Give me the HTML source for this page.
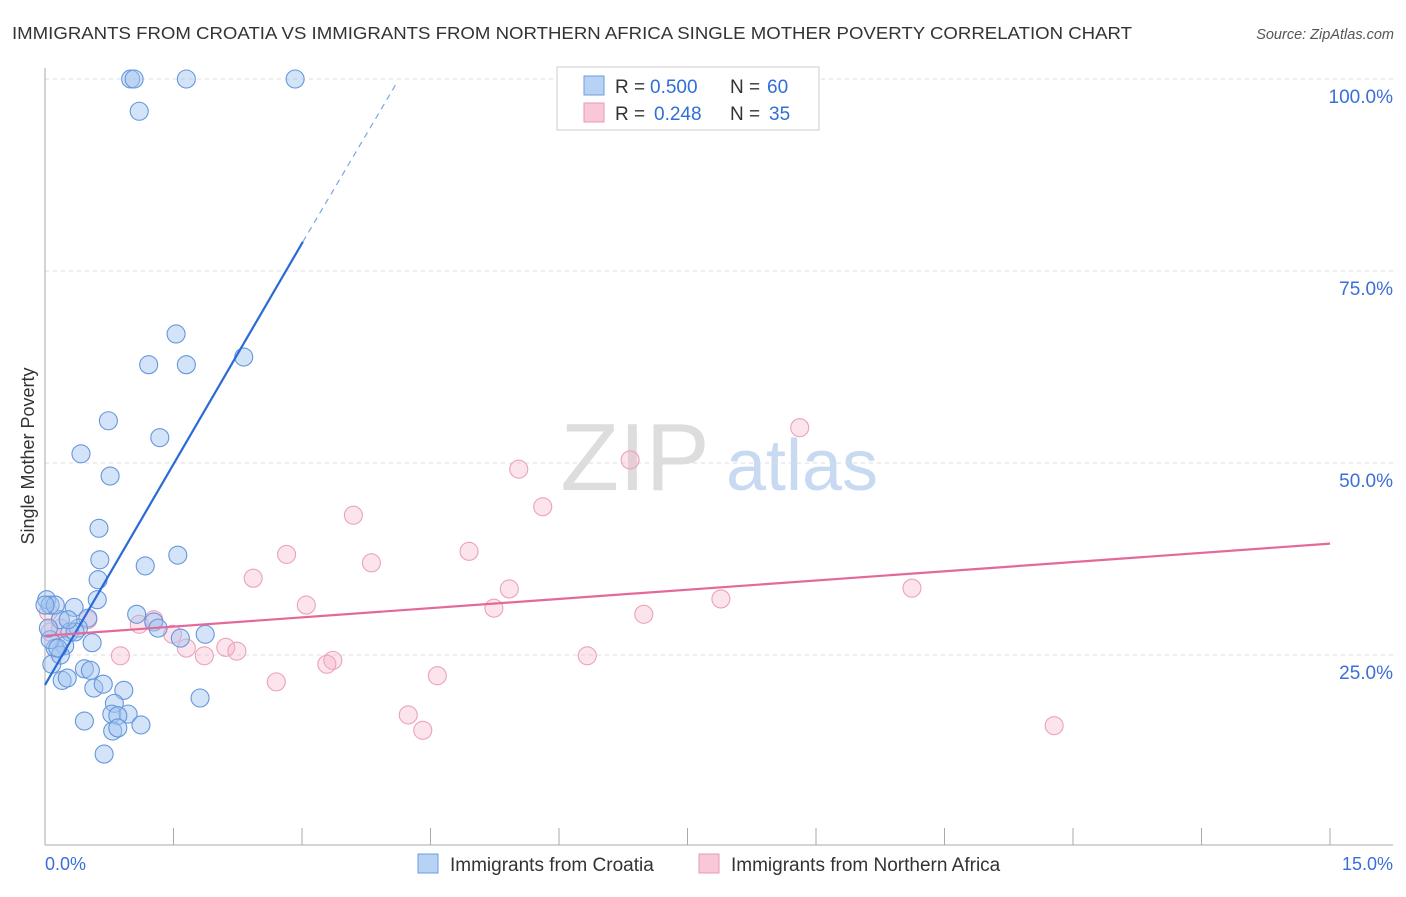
<!DOCTYPE html>
<html><head><meta charset="utf-8"><style>
body{margin:0;background:#fff;font-family:"Liberation Sans",sans-serif}
svg text{font-family:"Liberation Sans",sans-serif}
</style></head><body>
<svg id="chart" width="1406" height="892">
<text x="12" y="39" font-size="17.5" fill="#333" textLength="1120" lengthAdjust="spacingAndGlyphs">IMMIGRANTS FROM CROATIA VS IMMIGRANTS FROM NORTHERN AFRICA SINGLE MOTHER POVERTY CORRELATION CHART</text>
<text x="1394" y="39" font-size="14.5" fill="#555" font-style="italic" text-anchor="end">Source: ZipAtlas.com</text>
<g>
<text x="635" y="490" font-size="96" fill="#ddd" font-family="Liberation Serif" text-anchor="middle">ZIP</text>
<text x="802" y="490" font-size="72" fill="#c8daf2" text-anchor="middle">atlas</text>
</g>
<text transform="translate(34,456) rotate(-90)" font-size="18" fill="#333" text-anchor="middle">Single Mother Poverty</text>
<g id="grid"></g>
<g id="marks"></g>
<g>
<rect x="557" y="67" width="262" height="63" fill="#fff" stroke="#ccc"/>
<rect x="584" y="76" width="20" height="19" fill="#b8d2f4" stroke="#6b9de0"/>
<rect x="584" y="103" width="20" height="19" fill="#f8c8d6" stroke="#ea9ab3"/>
<text x="615" y="93" font-size="19" fill="#333">R =</text>
<text x="650" y="93" font-size="19" fill="#2f6fd6">0.500</text>
<text x="730" y="93" font-size="19" fill="#333">N =</text>
<text x="767" y="93" font-size="19" fill="#2f6fd6">60</text>
<text x="615" y="120" font-size="19" fill="#333">R =</text>
<text x="654" y="120" font-size="19" fill="#2f6fd6">0.248</text>
<text x="730" y="120" font-size="19" fill="#333">N =</text>
<text x="769" y="120" font-size="19" fill="#2f6fd6">35</text>
</g>
<g>
<rect x="418" y="854" width="20" height="19" fill="#b8d2f4" stroke="#6b9de0"/>
<text x="450" y="871" font-size="19" fill="#333">Immigrants from Croatia</text>
<rect x="699" y="854" width="20" height="19" fill="#f8c8d6" stroke="#ea9ab3"/>
<text x="731" y="871" font-size="19" fill="#333">Immigrants from Northern Africa</text>
</g>
<text x="45" y="870" font-size="18" fill="#3a6fd8">0.0%</text>
<text x="1393" y="870" font-size="18" fill="#3a6fd8" text-anchor="end">15.0%</text>
</svg>
<script>
const yTicks=[25,50,75,100];
const yTickLabels=["25.0%","50.0%","75.0%","100.0%"];
const xTicks=[0,1.5,3,4.5,6,7.5,9,10.5,12,13.5,15];
const croatiaX=[1.00,1.04,1.65,2.92,1.10,1.53,1.21,1.65,2.32,0.74,1.34,0.42,0.76,0.63,0.64,1.17,1.55,0.62,0.61,0.02,0.06,0.34,1.07,0.50,0.18,0.29,0.39,1.27,1.32,1.58,1.87,0.55,0.23,0.12,0.06,0.08,0.46,0.53,0.20,0.26,0.57,0.68,0.92,0.81,0.78,0.97,0.85,1.12,0.46,0.79,0.85,0.69,1.81,0.12,0.00,0.35,0.27,0.04,0.18,0.15];
const croatiaY=[100,100,100,100,95.8,66.8,62.8,62.8,63.8,55.5,53.3,51.2,48.3,41.5,37.4,36.6,38.0,34.8,32.2,32.2,31.5,31.2,30.3,29.8,29.6,28.0,28.5,29.3,28.5,27.2,27.7,26.6,26.2,25.9,27.0,23.8,23.2,23.0,21.7,22.0,20.7,21.2,20.4,18.7,17.3,17.3,17.1,15.9,16.4,15.1,15.5,12.1,19.4,31.5,31.5,28.0,29.6,28.5,25.0,25.9];
const africaX=[8.81,6.83,5.53,5.81,3.60,4.95,2.82,3.81,2.43,5.42,3.05,5.24,6.99,7.89,10.12,1.10,1.27,1.49,1.65,1.86,2.11,2.24,0.88,2.70,3.36,3.29,4.58,4.24,4.41,6.33,11.78,0.04,0.18,0.50,0.06];
const africaY=[54.6,50.4,49.2,44.3,43.2,38.5,38.1,37.0,35.0,33.6,31.5,31.1,30.3,32.3,33.7,29.0,29.6,27.7,25.9,24.9,26.0,25.5,24.9,21.5,24.3,23.8,22.3,17.2,15.2,24.9,15.8,30.6,28.5,29.6,28.0];
const croatiaTrendX=[0,3.01,4.09];
const croatiaTrendY=[21.1,78.8,99.2];
const africaTrendX=[0,15];
const africaTrendY=[27.5,39.5];

const NS="http://www.w3.org/2000/svg";
const X0=45,X1=1330,Y0=847,Y100=79;
const sx=v=>X0+(v/15)*(X1-X0);
const sy=v=>Y0-(v/100)*(Y0-Y100);
function mk(tag,attrs,parent){const e=document.createElementNS(NS,tag);for(const k in attrs)e.setAttribute(k,attrs[k]);parent.appendChild(e);return e;}
const grid=document.getElementById('grid');
const marks=document.getElementById('marks');
yTicks.forEach((t,i)=>{
  const l=mk('line',{x1:X0,x2:1393,y1:sy(t),y2:sy(t),stroke:'#ddd','stroke-dasharray':'4,4'},grid);
  
  
  const tx=mk('text',{x:1393,y:sy(t)+24,'font-size':19,fill:'#3a6fd8','text-anchor':'end'},grid);
  tx.textContent=yTickLabels[i];
  
  
});
const ax=mk('line',{x1:X0,x2:1393,y1:845,y2:845,stroke:'#aaa'},grid);


const ay=mk('line',{x1:X0,x2:X0,y1:68,y2:845,stroke:'#aaa'},grid);


xTicks.forEach(t=>{
  const l=mk('line',{x1:sx(t),x2:sx(t),y1:828,y2:845,stroke:'#aaa'},grid);
  
  
});
africaX.forEach((v,i)=>{
  const c=mk('circle',{cx:sx(v),cy:sy(africaY[i]),r:9,fill:'rgba(246,178,200,0.35)',stroke:'#eca2b9','stroke-width':1.1},marks);
  
  
});
croatiaX.forEach((v,i)=>{
  const c=mk('circle',{cx:sx(v),cy:sy(croatiaY[i]),r:9,fill:'rgba(160,196,240,0.45)',stroke:'#6596dc','stroke-width':1.1},marks);
  
  
});
const bt=mk('line',{x1:sx(croatiaTrendX[0]),y1:sy(croatiaTrendY[0]),x2:sx(croatiaTrendX[1]),y2:sy(croatiaTrendY[1]),stroke:'#2a6ad6','stroke-width':2.2},marks);


const bd=mk('line',{x1:sx(croatiaTrendX[1]),y1:sy(croatiaTrendY[1]),x2:sx(croatiaTrendX[2]),y2:sy(croatiaTrendY[2]),stroke:'#7aa6e6','stroke-width':1.2,'stroke-dasharray':'6,5'},marks);


const pt=mk('line',{x1:sx(africaTrendX[0]),y1:sy(africaTrendY[0]),x2:sx(africaTrendX[1]),y2:sy(africaTrendY[1]),stroke:'#e4689a','stroke-width':2.2},marks);


</script>
</body></html>
